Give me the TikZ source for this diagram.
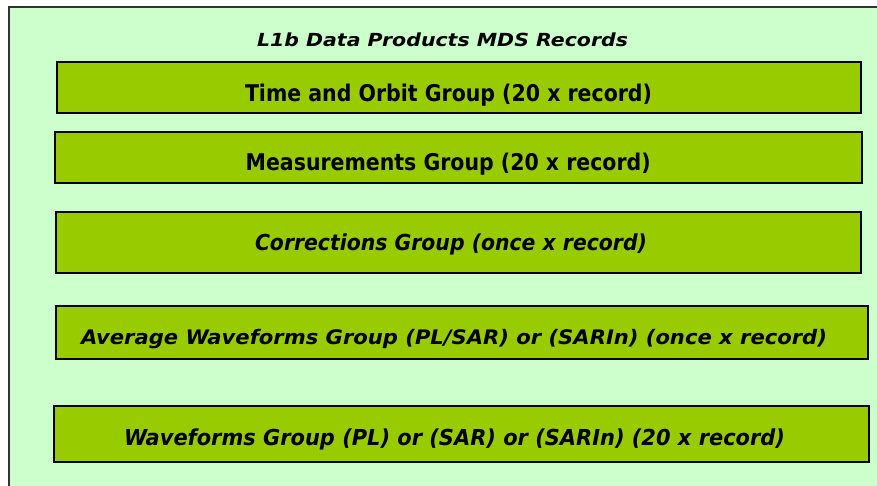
\documentclass[tikz,border=0pt]{standalone}
\usepackage{fontspec}
\usepackage{graphicx}
\setmainfont{DejaVu Sans}
\definecolor{paleg}{HTML}{CCFFCC}
\definecolor{grpg}{HTML}{99CC00}
\newcommand{\fitbold}[3]{\resizebox{#1pt}{\height}{\fontsize{#2}{#2}\selectfont\bfseries #3}}
\newcommand{\fitboldit}[3]{\resizebox{#1pt}{\height}{\fontsize{#2}{#2}\selectfont\bfseries\itshape #3}}
\begin{document}
\begin{tikzpicture}[x=1pt,y=-1pt,
  grp/.style={draw=black, line width=1.5pt, fill=grpg, rectangle, inner sep=0pt, anchor=north west},
  lbl/.style={anchor=base west, inner sep=0pt, outer sep=0pt}]
\useasboundingbox (0,0) rectangle (877,485);
\fill[paleg] (9,7) rectangle (885,495);
\draw[line width=1.3pt, draw=black!80] (9,495) -- (9,7) -- (885,7);
\node[grp, minimum width=804pt, minimum height=51pt] (b1) at (56,61) {};
\node[grp, minimum width=807pt, minimum height=51pt] (b2) at (54,131) {};
\node[grp, minimum width=805pt, minimum height=61pt] (b3) at (55,211) {};
\node[grp, minimum width=812pt, minimum height=53pt] (b4) at (55,305) {};
\node[grp, minimum width=815pt, minimum height=56pt] (b5) at (53,405) {};
\node[lbl] (title) at (257,46.7) {\fitboldit{371}{18}{L1b Data Products MDS Records}};
\node[lbl] (t1) at (245,101) {\fitbold{407}{23}{Time and Orbit Group (20 x record)}};
\node[lbl] (t2) at (245.7,170) {\fitbold{405}{23}{Measurements Group (20 x record)}};
\node[lbl] (t3) at (255,250) {\fitboldit{392}{22}{Corrections Group (once x record)}};
\node[lbl] (t4) at (81,344) {\fitboldit{746}{20}{Average Waveforms Group (PL/SAR) or (SARIn) (once x record)}};
\node[lbl] (t5) at (124,445) {\fitboldit{661}{22}{Waveforms Group (PL) or (SAR) or (SARIn) (20 x record)}};
\end{tikzpicture}
\end{document}
